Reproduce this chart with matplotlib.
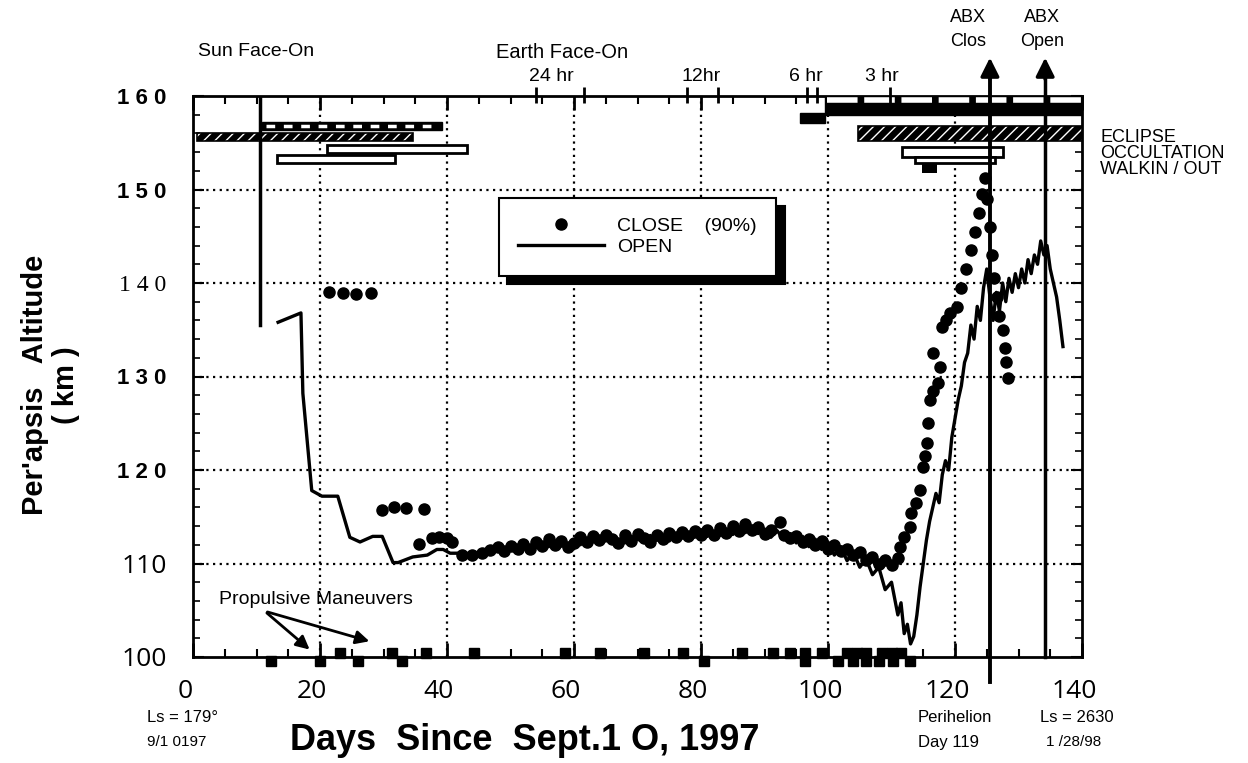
import matplotlib.pyplot as plt
from matplotlib.patches import Rectangle
from matplotlib.ticker import MultipleLocator
import matplotlib.transforms as mtransforms

# OPEN (solid line) periapsis altitude, km
open_days = [13.4, 17.0, 17.3, 18.7, 20.3, 22.8, 24.7, 26.3, 28.3, 29.8, 31.5, 32.3,
             34.6, 36.9, 38.4, 39.4, 40.5, 42.0,
             43, 44, 45, 46, 47, 48, 49, 50, 51, 52, 53, 54, 55, 56, 57, 58, 59, 60,
             61, 62, 63, 64, 65, 66, 67, 68, 69, 70, 71, 72, 73, 74, 75, 76, 77, 78,
             79, 80, 81, 82, 83, 84, 85, 86, 87, 88, 89, 90, 91, 92, 93, 94, 95, 96,
             97, 98, 99, 100, 101, 102, 103, 104, 105, 106, 107, 108, 109, 110,
             111, 111.5, 112, 112.5, 113, 113.5, 114, 114.5, 115, 115.5, 116, 116.5,
             117, 117.5, 118, 118.5, 119, 119.5, 120, 120.5, 121, 121.5, 122, 122.5,
             123, 123.5, 124, 124.5, 125, 125.5, 126, 126.5, 127, 127.5, 128, 128.5,
             129, 129.5, 130, 130.5, 131, 131.5, 132, 132.5, 133, 133.5, 134, 134.5,
             135, 135.5, 136, 136.5, 137]
open_km = [135.8, 136.8, 128.2, 117.8, 117.2, 117.2, 112.8, 112.3, 112.9, 112.9, 110.1, 110.1,
           110.7, 110.9, 111.5, 111.5, 111.1, 111.1,
           111.0, 111.2, 111.0, 111.3, 111.2, 111.5, 111.3, 111.6, 111.4, 111.8, 111.5, 111.7,
           112.0, 111.8, 112.3, 111.9, 112.1, 112.4, 112.0, 112.6, 112.3, 112.8, 112.4, 112.9,
           112.5, 112.2, 112.9, 112.6, 112.3, 113.0, 112.5, 112.8, 112.4, 113.1, 112.7, 113.2,
           112.8, 113.3, 112.9, 113.4, 113.0, 113.5, 113.1, 113.8, 113.3, 114.0, 113.2, 113.7,
           112.8, 113.5, 112.6, 113.2, 112.2, 112.9, 111.8, 112.6, 111.5, 112.3, 110.9, 111.8,
           110.3, 111.2, 109.6, 110.5, 108.8, 109.6, 107.2, 108.0,
           104.5, 105.8, 102.5, 103.5, 101.4, 102.2, 104.5, 107.5, 110.0, 112.5, 114.5, 116.0,
           117.5, 116.5, 119.5, 121.0, 120.0, 123.5, 125.5, 127.5, 129.0, 131.5, 132.5, 135.5,
           134.0, 137.5, 136.0, 139.5, 141.5, 138.5, 136.0, 139.0, 137.0, 140.0, 138.0, 140.5,
           139.0, 141.0, 139.5, 141.5, 140.0, 142.5, 141.0, 143.0, 142.0, 144.5, 143.0, 144.0,
           141.5, 140.0, 138.5, 136.0, 133.2]

# CLOSE (90%) dots
close_days = [21.4, 23.6, 25.7, 28.0,
              29.8, 31.7, 33.5, 36.4,
              35.6, 37.6, 38.7, 40.0, 40.8,
              42.4, 44.0, 45.5, 46.8, 48, 49, 50, 51.2, 52, 53, 54, 55, 56, 57, 58, 59,
              60, 61, 62, 63, 64, 65, 66, 67, 68, 69, 70, 71, 72, 73, 74, 75, 76, 77, 78,
              79, 80, 81, 82, 83, 84, 85, 86, 87, 88, 89, 90, 91, 92.4, 93, 94, 95, 96,
              97, 98, 99, 100, 101, 102, 103, 104, 105, 106, 107, 108, 109, 110, 111,
              111.3, 112, 112.9, 113, 113.8, 114.5, 115, 115.3, 115.6, 115.8, 116.1,
              116.5, 117.3, 117.6, 116.5, 118, 118.6, 119.2, 120.3,
              121, 121.8, 122.5, 123.2, 123.8, 124.3, 124.7, 125.1, 125.5, 125.8,
              126.2, 126.6, 127.0, 127.5, 127.8, 128.0, 128.3]
close_km = [139.0, 138.9, 138.8, 138.9,
            115.7, 116.0, 115.9, 115.8,
            112.1, 112.7, 112.8, 112.7, 112.3,
            110.9, 110.9, 111.1, 111.4, 111.8, 111.3, 111.9, 111.6, 112.1, 111.5, 112.3,
            111.9, 112.6, 112.0, 112.4, 111.8,
            112.2, 112.8, 112.3, 112.9, 112.5, 113.1, 112.6, 112.2, 113.0, 112.4, 113.2,
            112.7, 112.3, 113.0, 112.6, 113.3, 112.8, 113.4, 112.9,
            113.5, 113.0, 113.6, 113.1, 113.8, 113.3, 114.0, 113.5, 114.2, 113.6, 113.9,
            113.2, 113.6, 114.4, 113.0, 112.7, 112.9, 112.3,
            112.6, 112.0, 112.4, 111.6, 112.0, 111.3, 111.6, 110.9, 111.2, 110.4, 110.7,
            110.0, 110.4, 109.8, 110.6,
            111.8, 112.8, 113.9, 115.4, 116.5, 117.9, 120.3, 121.5, 122.9, 125.0, 127.5,
            128.5, 129.3, 131.0, 132.5, 135.3, 136.0, 136.8, 137.4,
            139.5, 141.5, 143.5, 145.5, 147.5, 149.5, 151.2, 149.0, 146.0, 143.0,
            140.5, 138.5, 136.5, 135.0, 133.0, 131.5, 129.8]

# propulsive maneuvers (days)
burns_above = [23.1, 31.3, 36.7, 44.3, 58.6, 64.1, 71.0, 77.2, 86.5, 91.3, 94.0, 96.4,
               99.0, 103.0, 104.5, 106.0, 108.5, 110.0, 111.5]
burns_below = [12.3, 20.0, 26.0, 32.9, 80.5, 96.4, 101.6, 104.0, 106.0, 108.0, 110.3, 112.9]

x_ticks = [0, 20, 40, 60, 80, 100, 120, 140]
y_ticks = [100, 110, 120, 130, 140, 150, 160]
y_labels = ['100', '110', '1 2 0', '1 3 0', '1 4 0', '1 5 0', '1 6 0']

# orbit period marks on the top axis
period_labels = ['24 hr', '12hr', '6 hr', '3 hr']
period_label_days = [56.5, 80.0, 96.5, 108.5]
period_tick_days = [54.0, 61.6, 77.8, 82.7, 96.7, 98.3, 109.8]

abx_close_day = 125.5
abx_open_day = 134.2
sun_face_on_day = 10.5

plt.rcParams['font.family'] = ['Liberation Sans', 'DejaVu Sans']

fig = plt.figure(figsize=(12.48, 7.63), dpi=100)
ax = fig.add_axes([193 / 1248, 106 / 763, 889 / 1248, 561 / 763])


def px(x, y):
    return x / 1248, 1 - y / 763


ax.set_xlim(0, 140)
ax.set_ylim(100, 160)

# grid
for d in [20, 40, 60, 80, 100, 120]:
    ax.axvline(d, color='black', lw=1.6, ls=(0, (1, 2)), zorder=1)
for k in [110, 120, 130, 140, 150]:
    ax.axhline(k, color='black', lw=1.6, ls=(0, (1, 2)), zorder=1)

# top bars: eclipse / occultation / walk in-out
ax.add_patch(Rectangle((99.5, 158.0), 40.5, 2.0, facecolor='black', edgecolor='black', zorder=3))
ax.plot([99.8, 140], [159.55, 159.55], color='white', lw=4, dashes=(5.5, 1.2), zorder=4)
ax.add_patch(Rectangle((95.6, 157.1), 4.0, 1.1, facecolor='black', edgecolor='black', zorder=3))
ax.add_patch(Rectangle((10.9, 156.4), 28.3, 0.8, facecolor='black', edgecolor='black', zorder=3))
ax.plot([11.5, 38.5], [156.8, 156.8], color='white', lw=2.5, dashes=(2.5, 2.5), zorder=4)

ax.add_patch(Rectangle((0.6, 155.2), 34.0, 0.8, facecolor='black', edgecolor='white',
                       hatch='///', lw=0, zorder=3))
ax.add_patch(Rectangle((0.6, 155.2), 34.0, 0.8, fill=False, edgecolor='black', lw=1.2, zorder=4))
ax.add_patch(Rectangle((104.7, 155.2), 35.3, 1.6, facecolor='black', edgecolor='white',
                       hatch='///', lw=0, zorder=3))
ax.add_patch(Rectangle((104.7, 155.2), 35.3, 1.6, fill=False, edgecolor='black', lw=1.2, zorder=4))

for x0, x1, y0, y1 in [(21.1, 43.1, 153.9, 154.8), (13.2, 31.8, 152.8, 153.7),
                       (111.7, 127.6, 153.5, 154.5), (113.7, 126.3, 152.8, 153.5)]:
    ax.add_patch(Rectangle((x0, y0), x1 - x0, y1 - y0, facecolor='white', edgecolor='black',
                           lw=2, zorder=3))
ax.add_patch(Rectangle((114.8, 151.8), 2.4, 1.0, facecolor='black', zorder=3))

# data
ax.plot(close_days, close_km, 'o', color='black', ms=8, ls='none', zorder=5,
        label='CLOSE    (90%)')
ax.plot(open_days, open_km, '-', color='black', lw=2.4, zorder=5, label='OPEN')

# Sun face-on marker line
ax.plot([sun_face_on_day, sun_face_on_day], [160, 135.5], color='black', lw=2.5, zorder=4)

# ABX close / open lines and arrows
ax.plot([abx_close_day, abx_close_day], [97.3, 162], color='black', lw=2.8, clip_on=False, zorder=6)
ax.plot([abx_open_day, abx_open_day], [100, 162], color='black', lw=2.5, clip_on=False, zorder=6)
for d in [abx_close_day, abx_open_day]:
    ax.annotate('', xy=(d, 164.4), xytext=(d, 161.5), annotation_clip=False,
                arrowprops=dict(arrowstyle='-|>', color='black', lw=2.5, mutation_scale=28))

# propulsive maneuvers
ax.plot(burns_above, [100.45] * len(burns_above), 's', color='black', ms=7, clip_on=False, zorder=6)
ax.plot(burns_below, [99.55] * len(burns_below), 's', color='black', ms=7, clip_on=False, zorder=6)
ax.text(19.3, 106.1, 'Propulsive Maneuvers', ha='center', va='center', fontsize=14)
for tip in [(18.7, 100.6), (28.2, 101.6)]:
    ax.annotate('', xy=tip, xytext=(11.3, 104.9),
                arrowprops=dict(arrowstyle='-|>', color='black', lw=2, mutation_scale=20))

# top axis period ticks
ax.vlines(period_tick_days, 159.3, 161.0, color='black', lw=2, clip_on=False, zorder=6)
for lab, d in zip(period_labels, period_label_days):
    ax.text(d, 161.2, lab, ha='center', va='bottom', fontsize=14)

# axes / ticks
for s in ax.spines.values():
    s.set_linewidth(2)
ax.set_xticks(x_ticks)
ax.set_xticklabels([str(v) for v in x_ticks], fontsize=19, family='Open Sans')
ax.xaxis.set_minor_locator(MultipleLocator(5))
ax.yaxis.set_minor_locator(MultipleLocator(2))
ax.tick_params(axis='x', which='major', direction='in', top=True, length=10, width=2, pad=16)
ax.tick_params(axis='x', which='minor', direction='in', top=True, length=6, width=1.5)
ax.tick_params(axis='y', which='major', direction='in', right=True, length=8, width=1.5, pad=19)
ax.tick_params(axis='y', which='minor', direction='in', right=True, length=5, width=1.2)
offset = mtransforms.ScaledTranslation(-8 / 100, 0, fig.dpi_scale_trans)
for lab in ax.get_xticklabels():
    lab.set_transform(lab.get_transform() + offset)

ax.set_yticks(y_ticks)
ax.set_yticklabels(y_labels)
for lab, v in zip(ax.get_yticklabels(), y_ticks):
    if v in (100, 110):
        lab.set_fontsize(19)
        lab.set_family('Open Sans')
    elif v == 140:
        lab.set_fontsize(17)
        lab.set_family('Liberation Serif')
    else:
        lab.set_fontsize(16)
        lab.set_fontweight('bold')

ax.set_xlabel('Days  Since  Sept.1 O, 1997', fontsize=26, fontweight='bold')
ax.xaxis.set_label_coords((525 - 193) / 889, -(741 - 657) / 561)
ax.xaxis.label.set_va('center')
ax.set_ylabel("Per'apsis   Altitude\n( km )", fontsize=21, fontweight='bold', linespacing=1.15)
ax.yaxis.set_label_coords(-(193 - 80) / 889, (657 - 385) / 561)

leg = ax.legend(loc='upper left', bbox_to_anchor=(0.333, 0.836), fontsize=14, handlelength=4.4,
                borderpad=1.0, labelspacing=0.2, handletextpad=0.7, fancybox=False,
                framealpha=1, edgecolor='black',
                shadow={'ox': 6, 'oy': -6, 'facecolor': 'black', 'edgecolor': 'black', 'alpha': 1})
leg.get_frame().set_linewidth(1.5)
leg.set_zorder(7)

# texts outside the axes
fig.text(*px(256, 52), 'Sun Face-On', ha='center', va='center', fontsize=14)
fig.text(*px(562, 52), 'Earth Face-On', ha='center', va='center', fontsize=14.5)
fig.text(*px(968, 18), 'ABX', ha='center', va='center', fontsize=13)
fig.text(*px(968, 42), 'Clos', ha='center', va='center', fontsize=13)
fig.text(*px(1042, 18), 'ABX', ha='center', va='center', fontsize=13)
fig.text(*px(1042, 42), 'Open', ha='center', va='center', fontsize=13)
fig.text(*px(1100, 138), 'ECLIPSE', ha='left', va='center', fontsize=13)
fig.text(*px(1100, 154), 'OCCULTATION', ha='left', va='center', fontsize=13)
fig.text(*px(1100, 170), 'WALKIN / OUT', ha='left', va='center', fontsize=13)
fig.text(*px(147, 718), 'Ls = 179°', ha='left', va='center', fontsize=12)
fig.text(*px(147, 742), '9/1 0197', ha='left', va='center', fontsize=11)
fig.text(*px(918, 718), 'Perihelion', ha='left', va='center', fontsize=12)
fig.text(*px(918, 742), 'Day 119', ha='left', va='center', fontsize=12)
fig.text(*px(1040, 717), 'Ls = 2630', ha='left', va='center', fontsize=12)
fig.text(*px(1046, 742), '1 /28/98', ha='left', va='center', fontsize=11)

fig.savefig('out.png', dpi=100)
